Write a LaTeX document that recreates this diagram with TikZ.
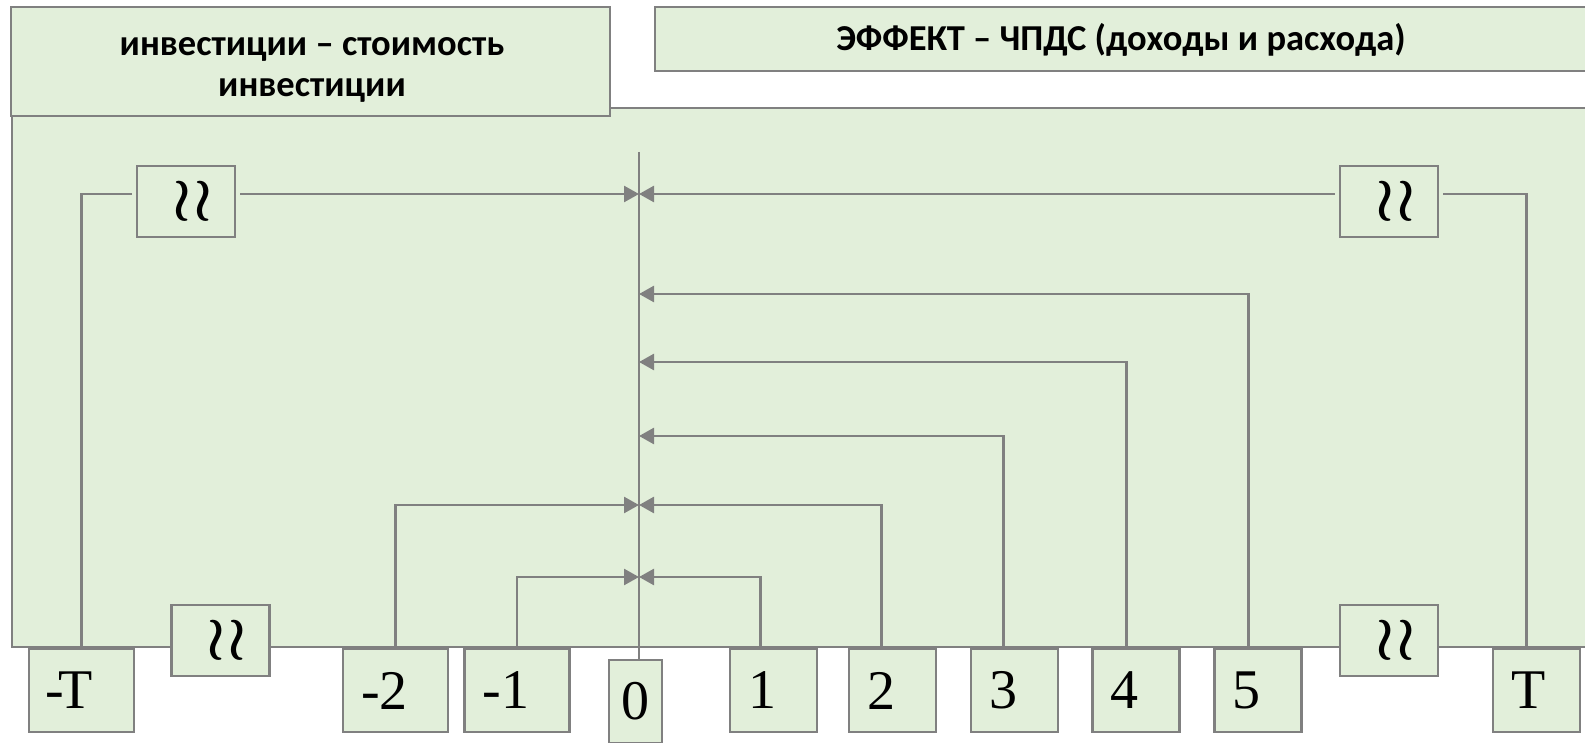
\documentclass[tikz,border=0pt]{standalone}
\usepackage{fontspec}
\newfontfamily\hdrfont{Carlito}
\newfontfamily\numfont{Liberation Serif}
\usetikzlibrary{arrows.meta}
\definecolor{boxfill}{HTML}{E2EFDA}
\definecolor{edge}{HTML}{808080}
\tikzset{
  gbox/.style={draw=edge, fill=boxfill, line width=2.5pt},
  hdrtext/.style={inner sep=0pt, align=center, font=\hdrfont\bfseries\fontsize{36.5}{41}\selectfont},
  numbox/.style={gbox, minimum height=83pt, inner ysep=0pt, inner xsep=18pt, align=left, font=\numfont\fontsize{56}{56}\selectfont},
  widebox/.style={numbox, text width=69pt},
  narrowbox/.style={numbox, text width=51pt},
  zerobox/.style={gbox, minimum width=53pt, minimum height=83pt, inner sep=0pt, font=\numfont\fontsize{56}{56}\selectfont},
  wrbox/.style={gbox, minimum width=98pt, minimum height=71pt, inner sep=0pt},
  link/.style={draw=edge, line width=2.6pt},
  arr/.style={link, -{Triangle[length=15pt,width=16pt]}},
}
\newcommand{\wrwr}{\hspace*{13pt}\resizebox{!}{42pt}{\boldmath$\mathord{\wr}\mkern0.5mu\mathord{\wr}$}}
\begin{document}
\begin{tikzpicture}[x=1pt,y=-1pt]
\useasboundingbox (0,0) rectangle (1585,743);
% main panel
\draw[gbox] (12,108) rectangle (1600,647);
% headers
\node[gbox, minimum width=599pt, minimum height=109pt] (hleftbox) at (310.5,61.5) {};
\node[hdrtext] (hleft) at (312,70) {инвестиции – стоимость\\инвестиции};
\node[gbox, minimum width=932pt, minimum height=64pt] (hrightbox) at (1121,39) {};
\node[hdrtext] (hright) at (1121,40) {ЭФФЕКТ – ЧПДС (доходы и расхода)};
% axis coordinates
\coordinate (axtop) at (639,152);
\coordinate (aT) at (639,194);
\coordinate (a5) at (639,294);
\coordinate (a4) at (639,362);
\coordinate (a3) at (639,436);
\coordinate (a2) at (639,505);
\coordinate (a1) at (639,577);
% bottom boxes
\node[widebox] (bmT) at (81.5,690.5) {\kern-2pt-\kern-5pt T};
\node[widebox] (bm2) at (395.5,690.5) {-2};
\node[widebox] (bm1) at (517,690.5) {-1};
\node[zerobox] (b0) at (635.5,701.5) {0};
\node[narrowbox] (b1) at (773.5,690.5) {1};
\node[narrowbox] (b2) at (892.5,690.5) {2};
\node[narrowbox] (b3) at (1014.5,690.5) {3};
\node[narrowbox] (b4) at (1136,690.5) {4};
\node[narrowbox] (b5) at (1258,690.5) {5};
\node[narrowbox] (bT) at (1536.5,690.5) {T};
% wreath boxes
\node[wrbox] (wtl) at (186,201.5) {\wrwr};
\node[wrbox] (wtr) at (1389,201.5) {\wrwr};
\node[wrbox] (wbl) at (220.5,640.5) {\wrwr};
\node[wrbox] (wbr) at (1389,640.5) {\wrwr};
% axis
\draw[link] (axtop) -- (axtop |- b0.north);
% connectors
\draw[link, shorten >=4pt] (bmT.north) |- ([yshift=7.5pt]wtl.west);
\draw[arr, shorten <=4pt] ([yshift=7.5pt]wtl.east) -- (aT);
\draw[link, shorten >=4pt] ([xshift=35pt]bT.north west) |- ([yshift=7.5pt]wtr.east);
\draw[arr, shorten <=4pt] ([yshift=7.5pt]wtr.west) -- (aT);
\draw[arr] ([xshift=35pt]b5.north west) |- (a5);
\draw[arr] ([xshift=35pt]b4.north west) |- (a4);
\draw[arr] ([xshift=34pt]b3.north west) |- (a3);
\draw[arr] ([xshift=34pt]b2.north west) |- (a2);
\draw[arr] ([xshift=32pt]b1.north west) |- (a1);
\draw[arr] (bm1.north) |- (a1);
\draw[arr] (bm2.north) |- (a2);
\end{tikzpicture}
\end{document}
